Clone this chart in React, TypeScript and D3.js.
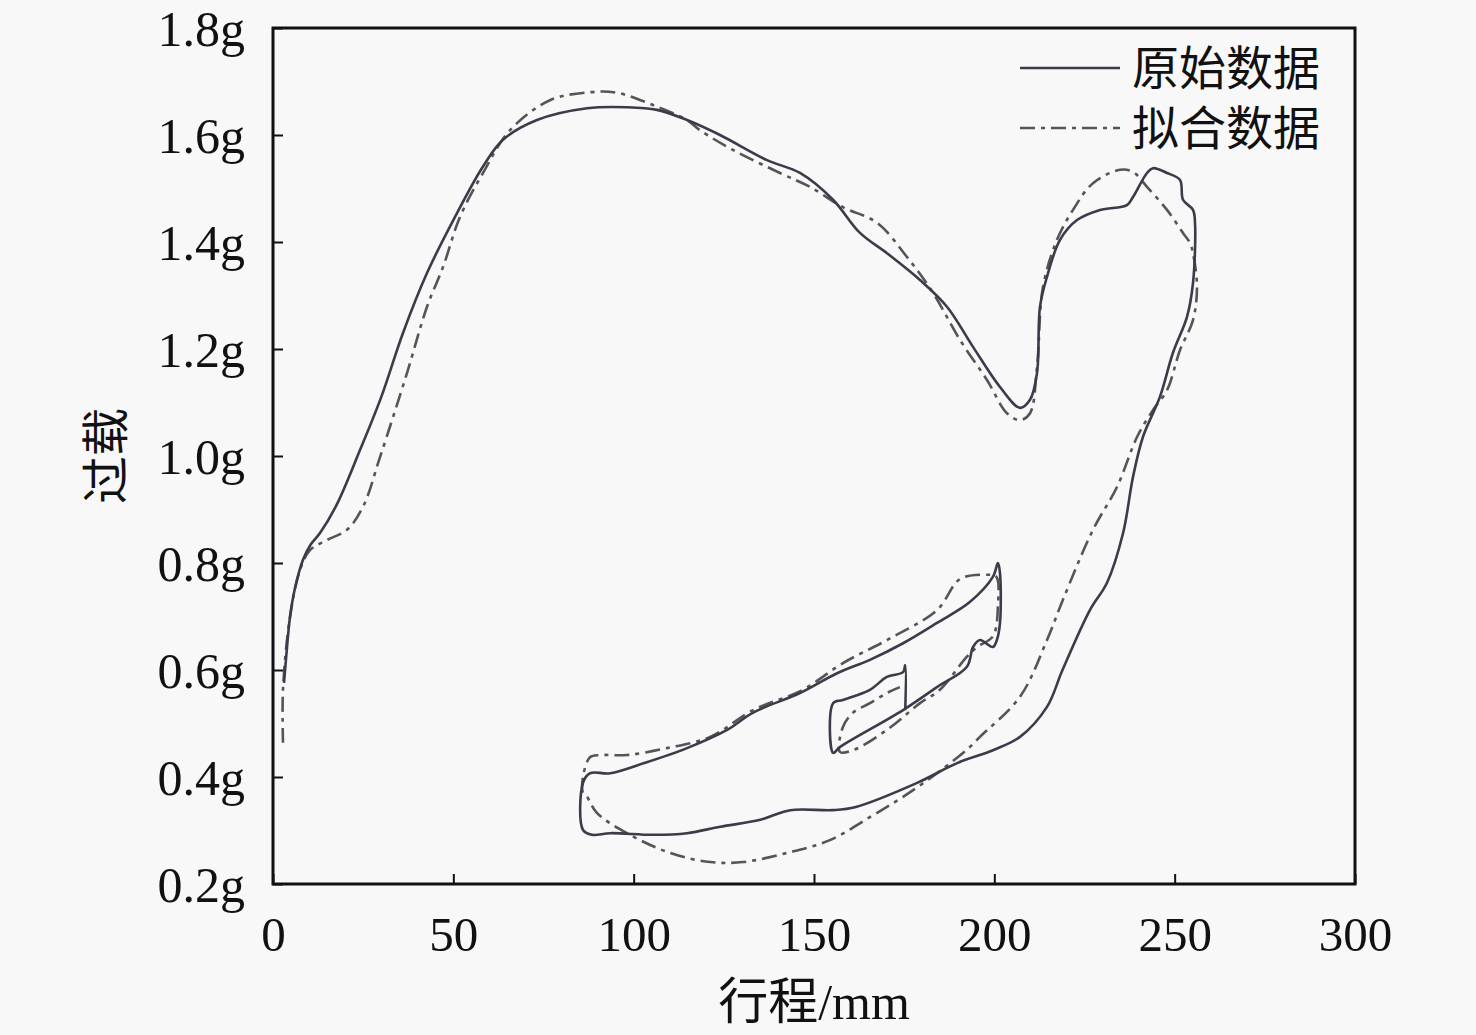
import * as d3 from 'd3'
import React, { useEffect, useRef } from 'react'

// 原始数据 (stroke / mm, overload / g)
const rawX = [
  3.05, 3.6, 4.71, 6.0, 8.32, 10.5, 13.03, 17.74, 24.12, 30.0, 36.04, 42.7, 51.02, 58.22, 63.77, 73.2,
  87.06, 98.15, 106.47, 114.79, 123.94, 136.97, 146.12, 155.27, 162.75, 170.24, 179.39, 186.87, 194.08,
  201.57, 207.12, 209.89, 211.83, 212.66, 214.6, 218.21, 222.92, 229.3, 236.78, 238.45, 242.33, 243.99,
  247.87, 251.48, 252.31, 255.08, 255.64, 255.08, 253.42, 249.53, 245.93, 241.22, 238.45, 235.7, 231.24,
  226.5, 218.9, 214.6, 207.12, 199.6, 189.7, 178.6, 161.6, 155.27, 143.4, 135.1, 124.0, 114.8, 105.4,
  93.5, 88.5, 85.95, 85.95, 87.9, 93.5, 102.9, 114.8, 125.9, 133.0, 146.1, 156.4, 165.5, 174.7, 184.1,
  193.2, 199.6, 201.0, 201.57, 201.57, 200.7, 199.6, 196.0, 194.1, 192.4, 184.1, 174.7, 157.2, 155.3,
  155.3, 158.0, 165.5, 170.2, 174.7, 175.3, 175.3,
]
const rawY = [
  0.576, 0.62, 0.699, 0.75, 0.806, 0.835, 0.856, 0.91, 1.011, 1.11, 1.23, 1.342, 1.454, 1.541, 1.591,
  1.628, 1.65, 1.652, 1.647, 1.628, 1.6, 1.553, 1.529, 1.479, 1.417, 1.379, 1.329, 1.279, 1.204, 1.129,
  1.09, 1.105, 1.155, 1.279, 1.335, 1.404, 1.441, 1.46, 1.469, 1.484, 1.529, 1.538, 1.529, 1.516, 1.479,
  1.46, 1.436, 1.323, 1.26, 1.193, 1.111, 1.036, 0.961, 0.856, 0.763, 0.712, 0.6, 0.531, 0.475, 0.45,
  0.426, 0.389, 0.344, 0.338, 0.338, 0.32, 0.307, 0.295, 0.292, 0.295, 0.292, 0.301, 0.389, 0.407,
  0.407, 0.426, 0.454, 0.488, 0.52, 0.557, 0.594, 0.619, 0.65, 0.688, 0.727, 0.774, 0.8, 0.781, 0.688,
  0.656, 0.643, 0.656, 0.643, 0.606, 0.568, 0.525, 0.456, 0.445, 0.538, 0.544, 0.563, 0.587, 0.596,
  0.609, 0.525,
]

// 拟合数据
const fitX = [
  2.77, 2.77, 4.71, 7.49, 10.26, 14.97, 20.52, 24.95, 29.67, 37.15, 42.7, 47.13, 51.85, 58.22, 65.71,
  76.8, 87.89, 95.38, 105.36, 114.79, 118.39, 127.54, 140.57, 148.89, 158.04, 167.47, 175.78, 182.99,
  190.48, 197.96, 203.51, 207.12, 209.89, 211.83, 213.49, 217.37, 221.81, 227.35, 234.84, 238.45,
  242.33, 247.87, 252.31, 254.25, 255.08, 256.19, 255.08, 251.48, 247.87, 244.0, 239.6, 234.0, 227.35,
  219.0, 214.6, 207.12, 196.0, 193.2, 184.1, 174.7, 165.5, 154.4, 142.5, 130.3, 121.2, 110.1, 98.15,
  89.8, 87.06, 85.95, 85.95, 87.89, 90.7, 98.15, 109.2, 121.2, 133.1, 146.9, 158.04, 170.24, 184.1,
  190.5, 197.96, 200.5, 201.0, 199.6, 195.2, 192.4, 184.9, 179.4, 170.2, 160.8, 157.2, 158.0, 160.8,
  165.5, 170.2, 173.8,
]
const fitY = [
  0.464, 0.563, 0.699, 0.787, 0.824, 0.843, 0.862, 0.905, 0.998, 1.155, 1.279, 1.353, 1.447, 1.529,
  1.609, 1.665, 1.68, 1.679, 1.656, 1.628, 1.609, 1.572, 1.529, 1.503, 1.465, 1.436, 1.372, 1.305,
  1.217, 1.142, 1.08, 1.067, 1.08, 1.166, 1.316, 1.404, 1.46, 1.51, 1.535, 1.531, 1.503, 1.46, 1.417,
  1.398, 1.379, 1.316, 1.254, 1.198, 1.123, 1.086, 1.036, 0.942, 0.862, 0.731, 0.656, 0.55, 0.475,
  0.456, 0.407, 0.363, 0.325, 0.282, 0.258, 0.241, 0.241, 0.258, 0.295, 0.333, 0.363, 0.37, 0.4, 0.437,
  0.441, 0.441, 0.454, 0.475, 0.525, 0.563, 0.613, 0.656, 0.712, 0.77, 0.778, 0.775, 0.72, 0.663,
  0.643, 0.625, 0.563, 0.538, 0.488, 0.45, 0.447, 0.493, 0.52, 0.538, 0.557, 0.568,
]

const xTicks = [0, 50, 100, 150, 200, 250, 300]
const yTicks = [0.2, 0.4, 0.6, 0.8, 1.0, 1.2, 1.4, 1.6, 1.8]
const legendLabels = ['原始数据', '拟合数据']

const W = 1476
const H = 1035
const margin = { top: 28, right: 121, bottom: 151, left: 273 }
const serif = '"Liberation Serif", "Times New Roman", "Noto Sans CJK SC", serif'
const cjk = '"Noto Sans CJK SC", "Liberation Serif", serif'

const App: React.FC = () => {
  const ref = useRef<SVGSVGElement>(null)

  useEffect(() => {
    if (!ref.current) return
    const svg = d3.select(ref.current)
    svg.selectAll('*').remove()

    const iw = W - margin.left - margin.right
    const ih = H - margin.top - margin.bottom
    const x = d3.scaleLinear().domain([0, 300]).range([0, iw])
    const y = d3.scaleLinear().domain([0.2, 1.8]).range([ih, 0])

    svg.append('rect').attr('width', W).attr('height', H).attr('fill', '#f8f8f8')

    const g = svg.append('g').attr('transform', `translate(${margin.left},${margin.top})`)

    const line = d3.line<[number, number]>()
      .x(d => x(d[0]))
      .y(d => y(d[1]))
      .curve(d3.curveCatmullRom.alpha(0.5))

    const raw = rawX.map((v, i) => [v, rawY[i]] as [number, number])
    const fit = fitX.map((v, i) => [v, fitY[i]] as [number, number])

    g.append('path')
      .attr('d', line(fit))
      .attr('fill', 'none')
      .attr('stroke', '#555')
      .attr('stroke-width', 2.6)
      .attr('stroke-dasharray', '15 6 4 6')

    g.append('path')
      .attr('d', line(raw))
      .attr('fill', 'none')
      .attr('stroke', '#3b3b4a')
      .attr('stroke-width', 2.6)

    // axes
    const xAxis = g.append('g')
      .attr('transform', `translate(0,${ih})`)
      .call(d3.axisBottom(x).tickValues(xTicks).tickSizeInner(-10).tickSizeOuter(0).tickPadding(32))
    xAxis.select('.domain').remove()
    xAxis.selectAll('line').attr('stroke', '#111').attr('stroke-width', 2)
    xAxis.selectAll('text')
      .attr('font-family', serif)
      .attr('font-size', 49)
      .attr('fill', '#111')
      .attr('dy', '0.71em')

    const yAxis = g.append('g')
      .call(d3.axisLeft(y).tickValues(yTicks).tickSizeInner(-10).tickSizeOuter(0).tickPadding(28)
        .tickFormat(d => `${(d as number).toFixed(1)}g`))
    yAxis.select('.domain').remove()
    yAxis.selectAll('line').attr('stroke', '#111').attr('stroke-width', 2)
    yAxis.selectAll('text')
      .attr('font-family', serif)
      .attr('font-size', 50)
      .attr('fill', '#111')
      .attr('dy', '0.34em')

    g.append('rect')
      .attr('width', iw)
      .attr('height', ih)
      .attr('fill', 'none')
      .attr('stroke', '#111')
      .attr('stroke-width', 3)

    // axis titles
    svg.append('text')
      .attr('x', margin.left + x(150))
      .attr('y', 1019)
      .attr('text-anchor', 'middle')
      .attr('font-size', 50)
      .attr('fill', '#111')
      .call(t => t.append('tspan').attr('font-family', cjk).text('行程'))
      .call(t => t.append('tspan').attr('font-family', serif).text('/mm'))

    svg.append('text')
      .attr('transform', `translate(123,${margin.top + y(1.0)}) rotate(-90)`)
      .attr('text-anchor', 'middle')
      .attr('font-family', cjk)
      .attr('font-size', 48)
      .attr('fill', '#111')
      .text('过载')

    // legend
    const legend = svg.append('g').attr('transform', 'translate(1020,68)')
    legendLabels.forEach((label, i) => {
      const row = legend.append('g').attr('transform', `translate(0,${i * 60})`)
      row.append('line')
        .attr('x1', 0).attr('x2', 100)
        .attr('stroke', i === 0 ? '#3b3b4a' : '#555')
        .attr('stroke-width', 2.6)
        .attr('stroke-dasharray', i === 0 ? null : '15 6 4 6')
      row.append('text')
        .attr('x', 112)
        .attr('dy', '0.36em')
        .attr('font-family', cjk)
        .attr('font-size', 47)
        .attr('fill', '#111')
        .text(label)
    })
  }, [])

  return (
    <svg
      ref={ref}
      width={W}
      height={H}
      style={{ position: 'absolute', left: 0, top: 0, display: 'block' }}
    />
  )
}

export default App
